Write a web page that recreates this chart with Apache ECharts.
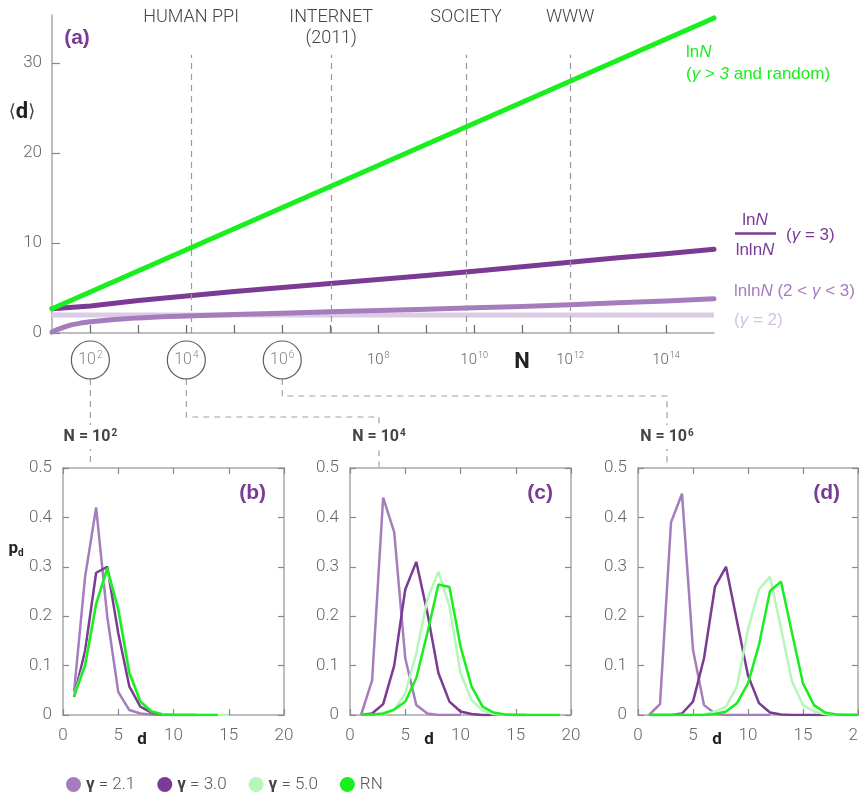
<!DOCTYPE html>
<html><head><meta charset="utf-8">
<script src="https://cdn.jsdelivr.net/npm/echarts@6/dist/echarts.min.js"></script>
<style>html,body{margin:0;padding:0;background:#fff}#c{width:859px;height:794px}</style>
</head><body><div id="c"></div>
<script>
// ---------- Panel (a): <d> versus log10 N ----------
const lnN        = [[1.2, 2.7], [15, 35.0]];
const lnN_lnlnN  = [[1.2, 2.7], [2, 3.0], [3, 3.6], [4, 4.1], [5, 4.6], [6, 5.05], [7, 5.5], [8, 5.95],
                    [9, 6.4], [10, 6.85], [11, 7.35], [12, 7.85], [13, 8.35], [14, 8.8], [15, 9.3]];
const lnlnN      = [[1.2, 0.1], [1.3, 0.35], [1.45, 0.65], [1.6, 0.9], [1.8, 1.1], [2, 1.25], [2.5, 1.5],
                    [3, 1.68], [3.5, 1.8], [4, 1.9], [5, 2.05], [6, 2.2], [7, 2.35], [8, 2.5], [9, 2.65],
                    [10, 2.8], [11, 2.95], [12, 3.15], [13, 3.35], [14, 3.55], [15, 3.8]];
const gamma2     = [[1.2, 2.0], [15, 2.0]];
const refNames   = ['HUMAN PPI', 'INTERNET\n(2011)', 'SOCIETY', 'WWW'];
const refLogN    = [4.1, 7.02, 9.83, 12.0];
const circleLogN = [2, 4, 6];
const xTickLogN  = [2, 3, 4, 5, 6, 7, 8, 9, 10, 11, 12, 13, 14];
const xLabelLogN = [8, 10, 11, 12, 14];
const yTicksA    = [0, 10, 20, 30];

// ---------- Panels (b)(c)(d): p_d versus d (values for d = 1, 2, 3, ...) ----------
const seriesNames = ['γ = 2.1', 'γ = 3.0', 'γ = 5.0', 'RN'];
const panelB = {
  g21: [0.047, 0.28, 0.42, 0.20, 0.047, 0.01, 0.003, 0.001, 0, 0],
  g30: [0.037, 0.13, 0.288, 0.30, 0.166, 0.058, 0.017, 0.005, 0.001, 0, 0, 0],
  g50: [0.04, 0.105, 0.23, 0.29, 0.22, 0.09, 0.03, 0.008, 0.002, 0, 0, 0, 0, 0, 0],
  rn:  [0.038, 0.10, 0.224, 0.298, 0.213, 0.085, 0.027, 0.007, 0.001, 0, 0, 0, 0, 0]
};
const panelC = {
  g21: [0, 0.07, 0.44, 0.37, 0.115, 0.02, 0.003, 0, 0, 0],
  g30: [0, 0.003, 0.022, 0.10, 0.254, 0.31, 0.207, 0.085, 0.027, 0.007, 0.002, 0, 0, 0, 0, 0],
  g50: [0, 0, 0.001, 0.01, 0.044, 0.125, 0.234, 0.29, 0.22, 0.085, 0.03, 0.009, 0.002, 0, 0, 0],
  rn:  [0, 0.001, 0.003, 0.011, 0.027, 0.075, 0.166, 0.264, 0.259, 0.139, 0.058, 0.017, 0.005, 0.001, 0, 0, 0, 0, 0]
};
const panelD = {
  g21: [0, 0.022, 0.39, 0.448, 0.132, 0.02, 0.003, 0, 0, 0, 0, 0],
  g30: [0, 0, 0, 0.003, 0.027, 0.115, 0.26, 0.30, 0.19, 0.08, 0.024, 0.005, 0.001, 0, 0, 0, 0, 0, 0, 0],
  g50: [0, 0, 0, 0, 0, 0.001, 0.007, 0.017, 0.058, 0.173, 0.254, 0.28, 0.176, 0.068, 0.02, 0.007, 0.002, 0, 0, 0],
  rn:  [0, 0, 0, 0, 0, 0, 0.002, 0.007, 0.024, 0.064, 0.142, 0.251, 0.27, 0.166, 0.064, 0.02, 0.005, 0.001, 0, 0]
};
const panels = [panelB, panelC, panelD];
const panelTags = ['(b)', '(c)', '(d)'];
const panelN = ['2', '4', '6'];

// ---------- styling ----------
const F = 'Roboto, "Noto Sans", sans-serif';
const FA = '"Liberation Sans", Arial, sans-serif';
const C = { g2: '#dccbe5', g21: '#a57dbd', g30: '#7b3b94', g50: '#b5f7b8', rn: '#19ee1e' };
const AX = '#a8a8a8';
const gridsPx = [
  { left: 52, top: 15, width: 662, height: 318 },
  { left: 63, top: 468, width: 221, height: 247 },
  { left: 350, top: 468, width: 221, height: 247 },
  { left: 638, top: 468, width: 220, height: 247 }
];

const grid = gridsPx.map(g => Object.assign({ containLabel: false, outerBoundsMode: 'none' }, g));

const xAxis = [{
  gridIndex: 0, type: 'value', min: 1.2, max: 15,
  axisLine: { lineStyle: { color: AX, width: 1.5 } },
  axisTick: { inside: true, length: 8, customValues: xTickLogN, lineStyle: { color: '#666', width: 1.2 } },
  splitLine: { show: false },
  axisLabel: {
    customValues: xLabelLogN, margin: 18, color: '#666', fontFamily: F, fontSize: 15, fontWeight: 300,
    formatter: v => v === 11 ? '{n|N}' : '10{s|' + v + '}',
    rich: {
      s: { fontSize: 9, fontFamily: F, color: '#666', padding: [0, 0, 9, 1] },
      n: { fontSize: 22, fontWeight: 'bold', color: '#222', fontFamily: F }
    }
  }
}];
const yAxis = [{
  gridIndex: 0, type: 'value', min: 0, max: 35.33,
  axisLine: { show: true, lineStyle: { color: AX, width: 1.5 } },
  axisTick: { show: true, inside: true, length: 8, customValues: yTicksA, lineStyle: { color: '#888', width: 1.2 } },
  splitLine: { show: false },
  axisLabel: { customValues: yTicksA, margin: 10, color: '#666', fontFamily: F, fontSize: 17, fontWeight: 300 }
}];

const lowTick = { inside: true, length: 6, lineStyle: { color: '#888', width: 1.2 } };
const lowLine = { show: true, onZero: false, lineStyle: { color: AX, width: 1.5 } };
for (let p = 0; p < 3; p++) {
  const gi = p + 1;
  xAxis.push({ gridIndex: gi, type: 'value', min: 0, max: 20, interval: 5, position: 'bottom',
    axisLine: lowLine, axisTick: lowTick, splitLine: { show: false },
    axisLabel: { margin: 12, color: '#666', fontFamily: F, fontSize: 17, fontWeight: 300 } });
  xAxis.push({ gridIndex: gi, type: 'value', min: 0, max: 20, interval: 5, position: 'top',
    axisLine: lowLine, axisTick: lowTick, splitLine: { show: false }, axisLabel: { show: false } });
  yAxis.push({ gridIndex: gi, type: 'value', min: 0, max: 0.5, interval: 0.1, position: 'left',
    axisLine: lowLine, axisTick: lowTick, splitLine: { show: false },
    axisLabel: { margin: 11, color: '#666', fontFamily: F, fontSize: 17, fontWeight: 300 } });
  yAxis.push({ gridIndex: gi, type: 'value', min: 0, max: 0.5, interval: 0.1, position: 'right',
    axisLine: lowLine, axisTick: lowTick, splitLine: { show: false }, axisLabel: { show: false } });
}

const topLine = (data, color, extra) => Object.assign({
  type: 'line', xAxisIndex: 0, yAxisIndex: 0, data: data, showSymbol: false, silent: true,
  smooth: false, lineStyle: { color: color, width: 5, cap: 'round', join: 'round' }
}, extra || {});

const series = [
  topLine(gamma2, C.g2, {
    lineStyle: { color: C.g2, width: 5, cap: 'butt' },
    markLine: {
      silent: true, symbol: 'none', animation: false,
      lineStyle: { type: [6, 5], color: '#9a9a9a', width: 1.2 },
      label: { show: true, position: 'end', distance: 6, color: '#444', fontFamily: F, fontSize: 18,
        fontWeight: 300, lineHeight: 21, formatter: p => p.name },
      data: refLogN.map((v, i) => [
        { name: refNames[i].indexOf('\n') >= 0 ? refNames[i] : refNames[i] + '\n ', coord: [v, 0] },
        { coord: [v, 30.9] }
      ])
    }
  }),
  topLine(lnlnN, C.g21),
  topLine(lnN_lnlnN, C.g30),
  topLine(lnN, C.rn),
  {
    type: 'scatter', xAxisIndex: 0, yAxisIndex: 0, silent: true, clip: false,
    data: circleLogN.map(v => [v, -3]), symbol: 'circle', symbolSize: 38,
    itemStyle: { color: '#fff', borderColor: '#333', borderWidth: 1.2 },
    label: { show: true, position: 'inside', color: '#666', fontFamily: F, fontSize: 16, fontWeight: 300,
      formatter: p => '10{s|' + p.value[0] + '}',
      rich: { s: { fontSize: 10, color: '#666', fontFamily: F, fontWeight: 300, padding: [0, 0, 9, 1] } } }
  }
];

const keys = ['g21', 'g30', 'g50', 'rn'];
panels.forEach((pd, p) => {
  keys.forEach((k, j) => {
    series.push({
      type: 'line', name: seriesNames[j], xAxisIndex: 1 + 2 * p, yAxisIndex: 1 + 2 * p,
      data: pd[k].map((v, i) => [i + 1, v]), showSymbol: false, silent: true,
      lineStyle: { color: C[k], width: 2.5 }, itemStyle: { color: C[k] }, z: 2 + j
    });
  });
});

const option = {
  animation: false,
  backgroundColor: '#fff',
  grid, xAxis, yAxis, series,
  legend: {
    data: seriesNames, left: 61, top: 771, icon: 'circle', itemWidth: 15, itemHeight: 15,
    itemGap: 22, selectedMode: false,
    textStyle: { color: '#555', fontFamily: F, fontSize: 17, fontWeight: 300,
      rich: { g: { fontWeight: 'bold', fontSize: 17, color: '#444', fontFamily: F } } },
    formatter: n => n.indexOf('γ') === 0 ? '{g|γ}' + n.slice(1) : n
  }
};

const chart = echarts.init(document.getElementById('c'));
chart.setOption(option);

// ---------- annotations ----------
const toPx = (x, y) => chart.convertToPixel({ xAxisIndex: 0, yAxisIndex: 0 }, [x, y]);
const circ = circleLogN.map(v => toPx(v, -3));
const panelDashX = [circ[0][0], 379, 667];
const bendY = [null, 417, 396];
const panelTop = gridsPx[1].top;
const dash = { stroke: '#a0a0a0', lineWidth: 1.2, lineDash: [6, 5], fill: null };
const graphic = [];
circ.forEach((c, k) => {
  const y0 = c[1] + 19;
  const pts = bendY[k] == null
    ? [[c[0], y0], [panelDashX[k], panelTop - 1]]
    : [[c[0], y0], [c[0], bendY[k]], [panelDashX[k], bendY[k]], [panelDashX[k], panelTop - 1]];
  graphic.push({ type: 'polyline', silent: true, z: 1, shape: { points: pts }, style: dash });
  graphic.push({ type: 'text', silent: true, z: 5, x: panelDashX[k], y: 437,
    style: { text: '{b|N = 10}{s|' + panelN[k] + '}', align: 'center', verticalAlign: 'middle',
      backgroundColor: '#fff', padding: [3, 2],
      rich: { b: { fontFamily: F, fontSize: 16, fontWeight: 'bold', fill: '#444' },
              s: { fontFamily: F, fontSize: 10, fontWeight: 'bold', fill: '#444', padding: [0, 0, 8, 1] } } } });
});
// panel tags
gridsPx.slice(1).forEach((g, p) => {
  graphic.push({ type: 'text', silent: true, x: g.left + g.width - 18, y: 493,
    style: { text: panelTags[p], align: 'right', verticalAlign: 'middle', fill: C.g30,
      font: 'bold 21px ' + FA } });
  graphic.push({ type: 'text', silent: true, x: g.left + 79, y: 740,
    style: { text: 'd', align: 'center', verticalAlign: 'middle', fill: '#222', font: 'bold 17px ' + F } });
});
graphic.push({ type: 'text', silent: true, x: 77, y: 38,
  style: { text: '(a)', align: 'center', verticalAlign: 'middle', fill: C.g30, font: 'bold 21px ' + FA } });
graphic.push({ type: 'text', silent: true, x: 22, y: 112,
  style: { text: '{a|⟨}{d|d}{a|⟩}', align: 'center', verticalAlign: 'middle',
    rich: { a: { fontFamily: '"DejaVu Sans"', fontSize: 18, fill: '#444' },
            d: { fontFamily: F, fontSize: 22, fontWeight: 'bold', fill: '#222' } } } });
graphic.push({ type: 'text', silent: true, x: 16, y: 549,
  style: { text: '{p|p}{d|d}', align: 'center', verticalAlign: 'middle',
    rich: { p: { fontFamily: F, fontSize: 17, fontWeight: 'bold', fill: '#222' },
            d: { fontFamily: F, fontSize: 10, fontWeight: 'bold', fill: '#222', padding: [8, 0, 0, 0] } } } });
// right-hand curve labels
const it = { fontFamily: FA, fontSize: 17, fontStyle: 'italic' };
graphic.push({ type: 'text', silent: true, x: 686, y: 63,
  style: { text: 'ln{i|N}\n({i|γ} > {i|3} and random)', align: 'left', verticalAlign: 'middle',
    fill: C.rn, font: '17px ' + FA, lineHeight: 22,
    rich: { i: Object.assign({ fill: C.rn }, it) } } });
graphic.push({ type: 'text', silent: true, x: 755, y: 220,
  style: { text: 'ln{i|N}', align: 'center', verticalAlign: 'middle', fill: C.g30, font: '17px ' + FA,
    rich: { i: Object.assign({ fill: C.g30 }, it) } } });
graphic.push({ type: 'line', silent: true, shape: { x1: 735, y1: 233.5, x2: 776, y2: 233.5 },
  style: { stroke: C.g30, lineWidth: 2.5 } });
graphic.push({ type: 'text', silent: true, x: 755, y: 250,
  style: { text: 'lnln{i|N}', align: 'center', verticalAlign: 'middle', fill: C.g30, font: '17px ' + FA,
    rich: { i: Object.assign({ fill: C.g30 }, it) } } });
graphic.push({ type: 'text', silent: true, x: 786, y: 235,
  style: { text: '({i|γ} = 3)', align: 'left', verticalAlign: 'middle', fill: C.g30, font: '17px ' + FA,
    rich: { i: Object.assign({ fill: C.g30 }, it) } } });
graphic.push({ type: 'text', silent: true, x: 734, y: 291,
  style: { text: 'lnln{i|N} (2 < {i|γ} < 3)', align: 'left', verticalAlign: 'middle', fill: C.g21, font: '17px ' + FA,
    rich: { i: Object.assign({ fill: C.g21 }, it) } } });
graphic.push({ type: 'text', silent: true, x: 734, y: 320,
  style: { text: '({i|γ} = 2)', align: 'left', verticalAlign: 'middle', fill: '#d5c2e0', font: '17px ' + FA,
    rich: { i: Object.assign({ fill: '#d5c2e0' }, it) } } });

chart.setOption({ graphic: graphic });
</script>
</body></html>
